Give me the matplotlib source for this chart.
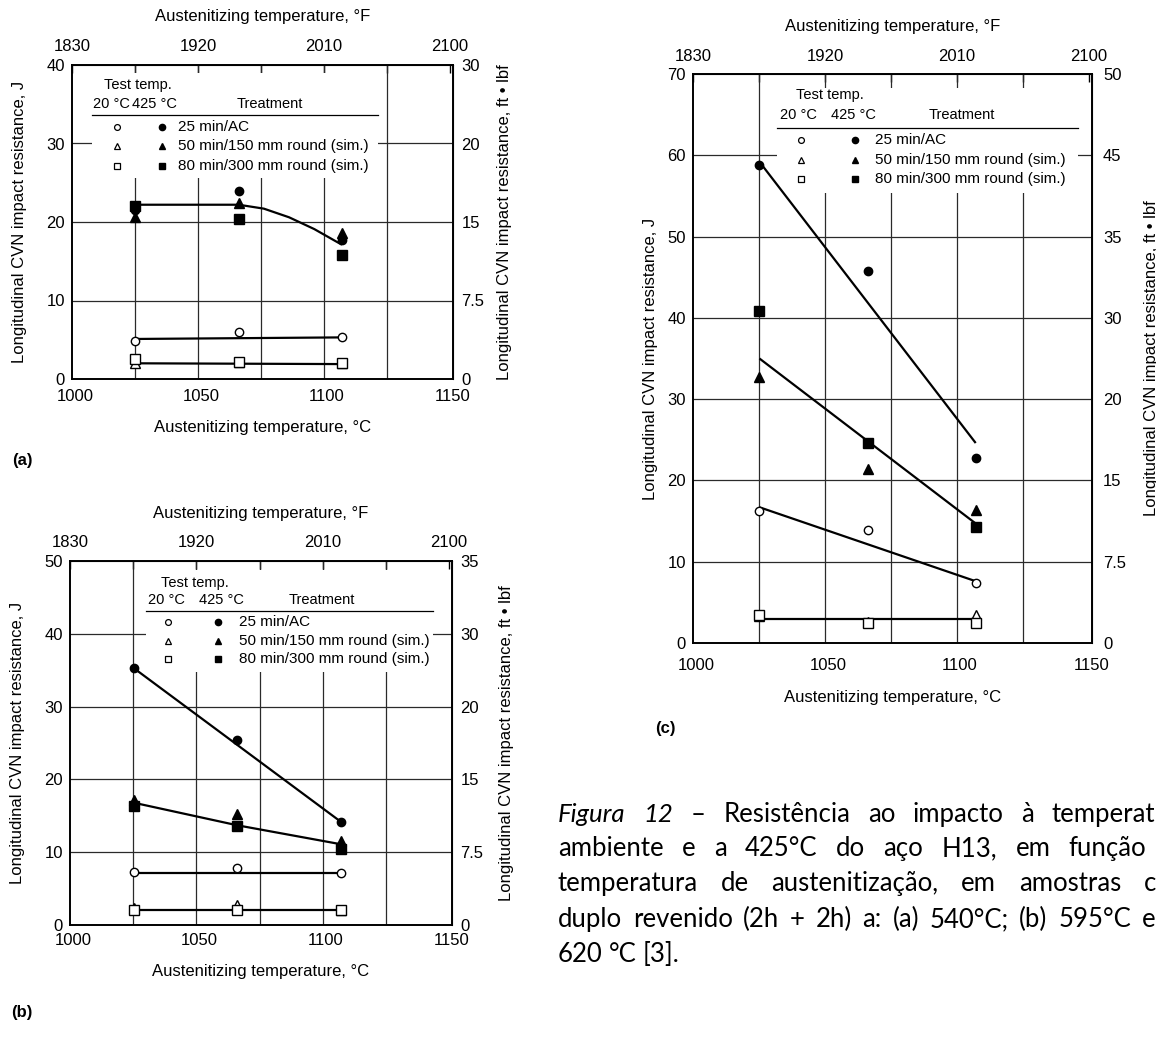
import matplotlib
matplotlib.use('Agg')
import matplotlib.pyplot as plt
from matplotlib.patches import Rectangle
from matplotlib.ticker import FixedLocator

plt.rcParams['font.family'] = ['Liberation Sans', 'DejaVu Sans']

# austenitizing temperatures of the tests, degC
temps = [1024, 1065, 1106]
fit_ends = [1024, 1106]

# (a) tempered 540 C
a_hot_ac = [21.5, 24.0, 17.7]
a_hot_150 = [20.6, 22.4, 18.6]
a_hot_300 = [22.0, 20.4, 15.8]
a_rt_ac = [4.9, 6.0, 5.3]
a_rt_150 = [2.1, 2.2, 2.0]
a_rt_300 = [2.5, 2.2, 2.0]
a_fit_hot_x = [1024, 1065, 1075, 1085, 1095, 1106]
a_fit_hot_y = [22.2, 22.2, 21.7, 20.6, 19.1, 17.1]
a_fit_rt_ac = [5.1, 5.3]
a_fit_rt = [2.0, 1.9]

# (b) tempered 595 C
b_hot_ac = [35.3, 25.4, 14.2]
b_hot_150 = [17.2, 15.3, 11.6]
b_hot_300 = [16.3, 13.6, 10.5]
b_rt_ac = [7.3, 7.8, 7.2]
b_rt_150 = [2.3, 2.7, 2.0]
b_rt_300 = [2.1, 2.1, 2.0]
b_fit_hot_ac = [35.3, 14.2]
b_fit_hot = [16.8, 13.7, 11.1]
b_fit_rt_ac = [7.2, 7.2]
b_fit_rt = [2.0, 2.0]

# (c) tempered 620 C
c_hot_ac = [58.8, 45.8, 22.7]
c_hot_150 = [32.7, 21.4, 16.4]
c_hot_300 = [40.9, 24.6, 14.3]
c_rt_ac = [16.3, 13.9, 7.4]
c_rt_150 = [3.3, 2.6, 3.5]
c_rt_300 = [3.5, 2.5, 2.5]
c_fit_hot_ac = [59.2, 24.6]
c_fit_hot = [35.0, 14.7]
c_fit_rt_ac = [16.7, 7.6]
c_fit_rt = [2.9, 2.9]

# right axis labels (ft.lbf) at the J ticks
a_right = ['0', '7.5', '15', '20', '30']
b_right = ['0', '7.5', '15', '20', '30', '35']
c_right = ['0', '7.5', '15', '20', '30', '35', '45', '50']

x_ticks_c = [1000, 1050, 1100, 1150]
f_major = [1830, 1920, 2010, 2100]
f_minor = [1875, 1965, 2055]
f_grid = [1875, 1920, 1965, 2010, 2055]

treatments = ['25 min/AC', '50 min/150 mm round (sim.)', '80 min/300 mm round (sim.)']
markers = ['o', '^', 's']
msizes = [6, 7, 6.5]


def c2f(c):
    return c * 9 / 5 + 32


def f2c(f):
    return (f - 32) * 5 / 9


W, H = 1156, 1038
fig = plt.figure(figsize=(W / 100, H / 100), dpi=100)


def draw_panel(rect, ymax, right_labels, hot, rt, fits, leg, pads, tag, tag_xy):
    ax = fig.add_axes(rect)
    ax.set_xlim(998.8, 1150.1)
    ax.set_ylim(0, ymax)
    yt = list(range(0, ymax + 1, 10))
    ax.set_xticks(x_ticks_c)
    ax.set_yticks(yt)
    ax.tick_params(axis='both', length=0, labelsize=12)
    ax.tick_params(axis='x', pad=pads['xt'])
    ax.tick_params(axis='y', pad=5)
    for s in ax.spines.values():
        s.set_linewidth(1.4)

    # grid
    for j in yt[1:-1]:
        ax.axhline(j, color='#2a2a2a', lw=0.9, zorder=1)
    for f in f_grid:
        ax.axvline(f2c(f), color='#2a2a2a', lw=0.9, zorder=1)

    # fitted lines
    for fx, fy in fits:
        ax.plot(fx, fy, color='k', lw=1.6, zorder=3, solid_capstyle='butt')
    # data points
    for vals, m, ms in zip(hot, markers, msizes):
        ax.plot(temps, vals, ls='none', marker=m, ms=ms, mfc='k', mec='k', zorder=4)
    for vals, m, ms in zip(rt, markers, msizes):
        ax.plot(temps, vals, ls='none', marker=m, ms=ms, mfc='white', mec='k',
                mew=1.0, zorder=5)

    # legend block
    x0, x1 = leg['box']
    ax.add_patch(Rectangle((x0, leg['bottom']), x1 - x0, 0.975 - leg['bottom'],
                           transform=ax.transAxes, fc='white', ec='none', zorder=2))
    fs = 10.5
    ax.text(leg['tt'], leg['y_tt'], 'Test temp.', transform=ax.transAxes,
            ha='center', va='center', fontsize=fs, zorder=6)
    ax.text(leg['x20'], leg['y_hd'], '20 °C', transform=ax.transAxes,
            ha='left', va='center', fontsize=fs, zorder=6)
    ax.text(leg['x425'], leg['y_hd'], '425 °C', transform=ax.transAxes,
            ha='left', va='center', fontsize=fs, zorder=6)
    ax.text(leg['xtr'], leg['y_hd'], 'Treatment', transform=ax.transAxes,
            ha='center', va='center', fontsize=fs, zorder=6)
    ax.plot([x0, x1], [leg['rule'], leg['rule']], transform=ax.transAxes,
            color='k', lw=0.9, zorder=6)
    for ry, m, t in zip(leg['rows'], markers, treatments):
        ax.plot([leg['xo']], [ry], transform=ax.transAxes, marker=m, ms=4.2,
                mfc='white', mec='k', mew=0.9, zorder=6)
        ax.plot([leg['xf']], [ry], transform=ax.transAxes, marker=m, ms=4.5,
                mfc='k', mec='k', zorder=6)
        ax.text(leg['xt'], ry, t, transform=ax.transAxes, ha='left', va='center',
                fontsize=11, zorder=6)

    # top axis in F
    sx = ax.secondary_xaxis('top', functions=(c2f, f2c))
    sx.set_xticks(f_major)
    sx.xaxis.set_minor_locator(FixedLocator(f_minor))
    sx.tick_params(which='both', direction='in', length=6, width=1.0, pad=pads['top'],
                   labelsize=12)
    sx.set_xlabel('Austenitizing temperature, °F', fontsize=12, labelpad=pads['toplab'])

    # right axis in ft.lbf
    sy = ax.secondary_yaxis('right')
    sy.set_yticks(yt, labels=right_labels)
    sy.tick_params(length=0, pad=pads['rt'], labelsize=12)
    sy.set_ylabel('Longitudinal CVN impact resistance, ft • lbf', fontsize=12,
                  labelpad=pads['rlab'])

    ax.set_xlabel('Austenitizing temperature, °C', fontsize=12, labelpad=pads['xlab'])
    ax.set_ylabel('Longitudinal CVN impact resistance, J', fontsize=12,
                  labelpad=pads['ylab'])
    fig.text(tag_xy[0] / W, 1 - tag_xy[1] / H, tag, fontsize=12, fontweight='bold',
             ha='center', va='center')
    return ax


def ax_rect(l, r, t, b):
    return [l / W, 1 - b / H, (r - l) / W, (b - t) / H]


# (a)
draw_panel(ax_rect(72, 453, 65, 379), 40, a_right,
           [a_hot_ac, a_hot_150, a_hot_300], [a_rt_ac, a_rt_150, a_rt_300],
           [(a_fit_hot_x, a_fit_hot_y), (fit_ends, a_fit_rt_ac), (fit_ends, a_fit_rt)],
           dict(box=(0.052, 0.803), bottom=0.64, tt=0.174, y_tt=0.936, x20=0.055,
                x425=0.158, xtr=0.52, y_hd=0.876, rule=0.841,
                rows=[0.803, 0.742, 0.678], xo=0.118, xf=0.236, xt=0.278),
           dict(xt=7, top=8, toplab=13, rt=6, rlab=9, xlab=12, ylab=14),
           '(a)', (22, 460))

# (b)
draw_panel(ax_rect(70, 452, 561, 925), 50, b_right,
           [b_hot_ac, b_hot_150, b_hot_300], [b_rt_ac, b_rt_150, b_rt_300],
           [(fit_ends, b_fit_hot_ac), (temps, b_fit_hot), (fit_ends, b_fit_rt_ac),
            (fit_ends, b_fit_rt)],
           dict(box=(0.2, 0.95), bottom=0.695, tt=0.327, y_tt=0.94, x20=0.204,
                x425=0.338, xtr=0.66, y_hd=0.893, rule=0.863,
                rows=[0.832, 0.78, 0.731], xo=0.257, xf=0.387, xt=0.442),
           dict(xt=6, top=8, toplab=12, rt=6, rlab=11, xlab=11, ylab=14),
           '(b)', (22, 1013))

# (c)
draw_panel(ax_rect(693, 1092, 74, 643), 70, c_right,
           [c_hot_ac, c_hot_150, c_hot_300], [c_rt_ac, c_rt_150, c_rt_300],
           [(fit_ends, c_fit_hot_ac), (fit_ends, c_fit_hot), (fit_ends, c_fit_rt_ac),
            (fit_ends, c_fit_rt)],
           dict(box=(0.21, 0.965), bottom=0.791, tt=0.343, y_tt=0.963, x20=0.218,
                x425=0.346, xtr=0.674, y_hd=0.928, rule=0.905,
                rows=[0.884, 0.849, 0.815], xo=0.271, xf=0.406, xt=0.456),
           dict(xt=11, top=7, toplab=13, rt=8, rlab=13, xlab=12, ylab=7),
           '(c)', (665, 728))

# caption, justified word by word (cropped at the right edge like the source page)
caption = [
    [('Figura', 'italic'), ('12', 'italic'), ('–', 'normal'), ('Resistência', 'normal'),
     ('ao', 'normal'), ('impacto', 'normal'), ('à', 'normal'), ('temperatura', 'normal')],
    'ambiente e a 425°C do aço H13, em função da',
    'temperatura de austenitização, em amostras com',
    'duplo revenido (2h + 2h) a: (a) 540°C; (b) 595°C e (c)',
    '620 °C [3].',
]
cap_left, cap_right = 558, 1192
cap_base = [822, 856, 891, 927, 962]
renderer = fig.canvas.get_renderer()
for i, line in enumerate(caption):
    if isinstance(line, str):
        line = [(w, 'normal') for w in line.split()]
    texts = [fig.text(0, 1 - cap_base[i] / H, w, fontsize=18.5, style=st,
                      family='Lato', va='baseline', ha='left') for w, st in line]
    widths = [t.get_window_extent(renderer).width for t in texts]
    gap = 6
    if i < len(caption) - 1:
        gap = max(gap, (cap_right - cap_left - sum(widths)) / (len(texts) - 1))
    x = cap_left
    for t, w in zip(texts, widths):
        t.set_x(x / W)
        x += w + gap

fig.savefig('out.png', dpi=100)
